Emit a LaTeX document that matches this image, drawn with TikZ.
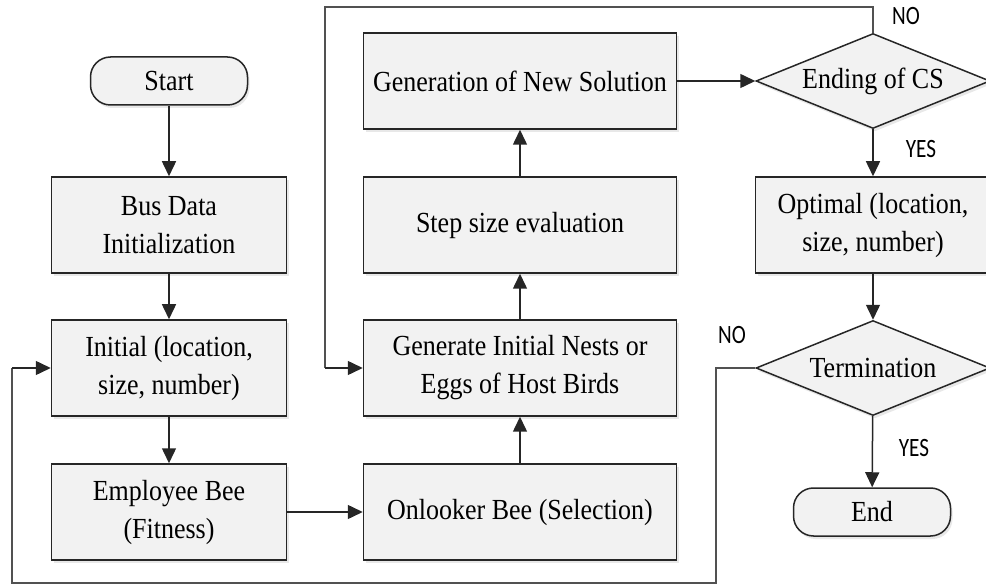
\documentclass[tikz,border=0pt]{standalone}
\usepackage{fontspec}
\setmainfont{Liberation Serif}
\newfontfamily\labfont{Carlito}
\usetikzlibrary{shapes.geometric,shadows,arrows.meta}
\definecolor{boxfill}{HTML}{F2F2F2}
\definecolor{edge}{HTML}{262626}
\newcommand{\tallt}[1]{\scalebox{1}[1.12]{#1}}
\newcommand{\talll}[1]{\scalebox{0.92}[1.15]{#1}}
\tikzset{
  base/.style={draw=edge, line width=1.5pt, fill=boxfill, align=center,
    font=\fontsize{26}{38}\selectfont,
    drop shadow={shadow xshift=2pt, shadow yshift=-3pt, opacity=0.18, fill=gray}},
  procbox/.style={base, rectangle, minimum width=235pt, minimum height=96pt, inner sep=0pt},
  widebox/.style={procbox, minimum width=313pt},
  term/.style={base, rectangle, rounded corners=20pt, minimum width=157pt, minimum height=48pt, inner sep=0pt},
  decision/.style={base, diamond, minimum width=234pt, minimum height=95pt, inner sep=0pt, aspect=2.5},
  conn/.style={draw=edge, line width=1.5pt, -{Triangle[length=15pt,width=14pt]}},
  loopline/.style={draw=edge!80, line width=1.5pt},
  lab/.style={font=\labfont\fontsize{23}{25}\selectfont, text=black}
}
\begin{document}
\begin{tikzpicture}[x=1pt,y=-1pt]
\useasboundingbox (0,0) rectangle (986,585);
\node[term] (start) at (169,81) {\tallt{Start}};
\node[procbox] (bus) at (169,225) {\tallt{Bus Data}\\\tallt{Initialization}};
\node[procbox] (init) at (169,368) {\tallt{Initial (location,}\\\tallt{size, number)}};
\node[procbox] (emp) at (169,512) {\tallt{Employee Bee}\\\tallt{(Fitness)}};
\node[widebox] (onl) at (520,512) {\tallt{Onlooker Bee (Selection)}};
\node[widebox] (gen) at (520,368) {\tallt{Generate Initial Nests or}\\\tallt{Eggs of Host Birds}};
\node[widebox] (step) at (520,225) {\tallt{Step size evaluation}};
\node[widebox] (newsol) at (520,81) {\tallt{Generation of New Solution}};
\node[decision] (endcs) at (873,81) {\tallt{Ending of CS}};
\node[procbox] (opt) at (873,225) {\tallt{Optimal (location,}\\\tallt{size, number)}};
\node[decision] (termn) at (873,368) {\tallt{Termination}};
\node[term] (fin) at (872,512) {\tallt{End}};

\coordinate (t1) at (873,7);
\coordinate (t2) at (325,7);
\coordinate (t3) at (325,368);
\coordinate (b1) at (716,368);
\coordinate (b2) at (716,583);
\coordinate (b3) at (12,583);
\coordinate (b4) at (12,368);

\draw[conn] (start) -- (bus);
\draw[conn] (bus) -- (init);
\draw[conn] (init) -- (emp);
\draw[conn] (emp) -- (onl);
\draw[conn] (onl) -- (gen);
\draw[conn] (gen) -- (step);
\draw[conn] (step) -- (newsol);
\draw[conn] (newsol) -- (endcs);
\draw[conn] (endcs) -- (opt);
\draw[conn] (opt) -- (termn);
\draw[conn] (termn) -- (fin);
\draw[loopline] (endcs.north) -- (t1) -- (t2) -- (t3);
\draw[conn] (t3) -- (gen.west);
\draw[loopline] (termn.west) -- (b1) -- (b2) -- (b3) -- (b4);
\draw[conn] (b4) -- (init.west);

\node[lab] (no1) at (906,16) {\talll{NO}};
\node[lab] (yes1) at (921,149) {\talll{YES}};
\node[lab] (no2) at (732,335) {\talll{NO}};
\node[lab] (yes2) at (914,448) {\talll{YES}};
\end{tikzpicture}
\end{document}
